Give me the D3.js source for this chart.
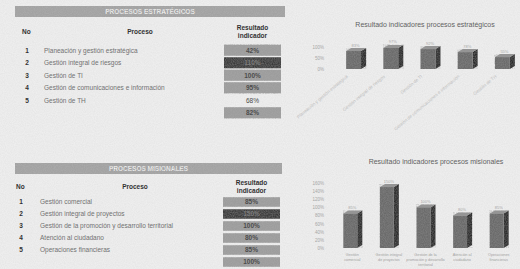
<!DOCTYPE html>
<html>
<head>
<meta charset="utf-8">
<script src="https://d3js.org/d3.v7.min.js"></script>
<style>
  body { margin: 0; background: #eeeeee; }
  svg { display: block; font-family: "Liberation Sans", Arial, sans-serif; }
  .cell { font-size: 6.5px; fill: #707070; }
  .head { font-size: 6.5px; font-weight: bold; fill: #2e2e2e; }
  .tick text { font-size: 4.5px; fill: #a8a8a8; }
</style>
</head>
<body>
<div id="chart"></div>
<script>
// table / chart data
const estrProcesses = ["Planeación y gestión estratégica", "Gestión integral de riesgos", "Gestión de TI",
  "Gestión de comunicaciones e información", "Gestión de TH"];
const estrResults = [0.42, 1.10, 1.00, 0.95, 0.68];
const estrAverage = 0.82;
const estrChartValues = [0.83, 0.97, 0.92, 0.78, 0.55];
const estrTicks = [0, 0.5, 1];

const misProcesses = ["Gestión comercial", "Gestión integral de proyectos",
  "Gestión de la promoción y desarrollo territorial", "Atención al ciudadano", "Operaciones financieras"];
const misResults = [0.85, 1.50, 1.00, 0.80, 0.85];
const misAverage = 1.00;
const misTicks = [0, 0.2, 0.4, 0.6, 0.8, 1.0, 1.2, 1.4, 1.6];
const misLabelLines = [["Gestión", "comercial"], ["Gestión integral", "de proyectos"],
  ["Gestión de la", "promoción y desarrollo", "territorial"], ["Atención al", "ciudadano"], ["Operaciones", "financieras"]];

const W = 520, H = 269;
const pct = d3.format(".0%");

const svg = d3.select("#chart").append("svg").attr("width", W).attr("height", H);

const defs = svg.append("defs");
const grain = defs.append("filter").attr("id", "grain").attr("x", 0).attr("y", 0).attr("width", 1).attr("height", 1);
grain.append("feTurbulence").attr("type", "fractalNoise").attr("baseFrequency", 0.9).attr("numOctaves", 2).attr("seed", 3);
grain.append("feColorMatrix").attr("type", "matrix")
  .attr("values", "0 0 0 0 0.3  0 0 0 0 0.3  0 0 0 0 0.3  0 0 0 -1.2 0.9");

svg.append("rect").attr("width", W).attr("height", H).attr("fill", "#eeeeee");

function tone(v) {
  if (v > 1.05) return "#3a3a3a";
  if (v >= 0.6 && v < 0.7) return "none";
  return "#a2a2a2";
}

function drawTable(o) {
  const g = svg.append("g");
  g.append("rect").attr("x", o.x0).attr("y", o.headY).attr("width", o.x1 - o.x0).attr("height", 11).attr("fill", "#a9a9a9");
  g.append("text").attr("x", (o.x0 + o.x1) / 2).attr("y", o.headY + 8).attr("text-anchor", "middle")
    .attr("font-size", 6.5).attr("font-weight", "bold").attr("fill", "#f2f2f2").text(o.title);

  g.append("text").attr("class", "head").attr("x", o.noX - 5).attr("y", o.colY + 2).text("No");
  g.append("text").attr("class", "head").attr("x", o.procX).attr("y", o.colY + 2).attr("text-anchor", "middle").text("Proceso");
  g.append("text").attr("class", "head").attr("x", o.boxX + o.boxW / 2).attr("y", o.colY - 2).attr("text-anchor", "middle").text("Resultado");
  g.append("text").attr("class", "head").attr("x", o.boxX + o.boxW / 2).attr("y", o.colY + 6).attr("text-anchor", "middle").text("indicador");

  const rows = d3.scaleBand().domain(d3.range(o.names.length + 1)).range(o.rowRange);
  o.names.forEach((n, i) => {
    const cy = rows(i) + rows.bandwidth() / 2;
    g.append("text").attr("class", "head").attr("x", o.noX).attr("y", cy + 2.3).attr("text-anchor", "middle").text(i + 1);
    g.append("text").attr("class", "cell").attr("x", o.textX).attr("y", cy + 2.3).text(n);
  });
  const vals = o.values.concat([o.avg]);
  vals.forEach((v, i) => {
    const cy = rows(i) + rows.bandwidth() / 2;
    const f = tone(v);
    if (f !== "none") {
      g.append("rect").attr("x", o.boxX).attr("y", cy - o.boxH / 2).attr("width", o.boxW).attr("height", o.boxH).attr("fill", f);
      g.append("rect").attr("x", o.boxX).attr("y", cy - o.boxH / 2).attr("width", o.boxW).attr("height", o.boxH)
        .attr("filter", "url(#grain)").attr("opacity", 0.6);
    }
    g.append("text").attr("x", o.boxX + o.boxW / 2).attr("y", cy + 2.3).attr("text-anchor", "middle")
      .attr("font-size", 6.5).attr("font-weight", f === "none" ? "normal" : "bold")
      .attr("fill", f === "#3a3a3a" ? "#7a7a7a" : "#4a4a4a").text(pct(v));
  });
  g.append("rect").attr("x", o.x0).attr("y", o.headY).attr("width", o.x1 - o.x0).attr("height", 11)
    .attr("filter", "url(#grain)").attr("opacity", 0.5);
}

drawTable({ title: "PROCESOS ESTRATÉGICOS", x0: 15, x1: 285, headY: 6, colY: 32, noX: 27, procX: 140, textX: 44,
  boxX: 224, boxW: 57, boxH: 11, rowRange: [44, 119], names: estrProcesses, values: estrResults, avg: estrAverage });
drawTable({ title: "PROCESOS MISIONALES", x0: 15, x1: 282, headY: 163, colY: 187, noX: 21, procX: 135, textX: 40,
  boxX: 223, boxW: 57, boxH: 9.5, rowRange: [196, 268], names: misProcesses, values: misResults, avg: misAverage });

function bars3d(g, data, x, y, base, dx, dy) {
  const b = g.selectAll(".bar").data(data).enter().append("g").attr("class", "bar");
  b.append("polygon").attr("fill", "#2c2c2c").attr("points", d => {
    const x1 = x(d.name) + x.bandwidth(), yt = y(d.value);
    return [[x1, yt], [x1 + dx, yt - dy], [x1 + dx, base - dy], [x1, base]].join(" ");
  });
  b.append("polygon").attr("fill", "#959595").attr("points", d => {
    const x0 = x(d.name), x1 = x0 + x.bandwidth(), yt = y(d.value);
    return [[x0, yt], [x0 + dx, yt - dy], [x1 + dx, yt - dy], [x1, yt]].join(" ");
  });
  b.append("rect").attr("x", d => x(d.name)).attr("y", d => y(d.value))
    .attr("width", x.bandwidth()).attr("height", d => base - y(d.value)).attr("fill", "#6a6a6a");
  b.append("rect").attr("x", d => x(d.name)).attr("y", d => y(d.value) - dy)
    .attr("width", x.bandwidth() + dx).attr("height", d => base - y(d.value) + dy)
    .attr("filter", "url(#grain)").attr("opacity", 0.55);
  b.append("text").attr("x", d => x(d.name) + x.bandwidth() / 2 + 2).attr("y", d => y(d.value) - dy - 1.5)
    .attr("text-anchor", "middle").attr("font-size", 4).attr("fill", "#aaa").text(d => pct(d.value));
}

// chart 1: procesos estratégicos
{
  const data = estrProcesses.map((n, i) => ({ name: n, value: estrChartValues[i] }));
  const x = d3.scaleBand().domain(estrProcesses).range([335, 521]).paddingInner(0.6).paddingOuter(0.3);
  const y = d3.scaleLinear().domain([0, 1.2]).range([69, 43]);
  const g = svg.append("g");
  g.append("text").attr("x", 425).attr("y", 27).attr("text-anchor", "middle").attr("font-size", 7)
    .attr("fill", "#5e5e5e").text("Resultado indicadores procesos estratégicos");
  const ax = g.append("g").attr("transform", "translate(325,0)")
    .call(d3.axisLeft(y).tickValues(estrTicks).tickFormat(pct).tickSize(0).tickPadding(1));
  ax.select(".domain").remove();
  ax.selectAll("text").attr("font-size", 4);
  bars3d(g, data, x, y, 69, 5, 3);
  g.selectAll(".cat").data(estrProcesses).enter().append("text")
    .attr("transform", d => `translate(${x(d) + 2},${77}) rotate(-40)`)
    .attr("text-anchor", "end").attr("font-size", 4.5).attr("fill", "#c2c2c2").text(d => d);
}

// chart 2: procesos misionales
{
  const data = misProcesses.map((n, i) => ({ name: n, value: misResults[i] }));
  const x = d3.scaleBand().domain(misProcesses).range([332, 515]).paddingInner(0.62).paddingOuter(0.31);
  const y = d3.scaleLinear().domain([0, 1.6]).range([248, 183]);
  const g = svg.append("g");
  g.append("text").attr("x", 436).attr("y", 164).attr("text-anchor", "middle").attr("font-size", 7)
    .attr("fill", "#5e5e5e").text("Resultado indicadores procesos misionales");
  const ax = g.append("g").attr("transform", "translate(325,0)")
    .call(d3.axisLeft(y).tickValues(misTicks).tickFormat(pct).tickSize(0).tickPadding(1));
  ax.select(".domain").remove();
  bars3d(g, data, x, y, 248, 5, 3);
  const cat = g.selectAll(".cat").data(misProcesses).enter().append("text")
    .attr("x", d => x(d) + x.bandwidth() / 2 + 2).attr("y", 256)
    .attr("text-anchor", "middle").attr("font-size", 3.8).attr("fill", "#a4a4a4");
  cat.selectAll("tspan").data((d, i) => misLabelLines[i]).enter().append("tspan")
    .attr("x", function () { return this.parentNode.getAttribute("x"); })
    .attr("dy", (d, i) => i ? 5 : 0).text(d => d);
}

// scanned paper speckle
svg.append("rect").attr("width", W).attr("height", H).attr("filter", "url(#grain)").attr("opacity", 0.12);
</script>
</body>
</html>
